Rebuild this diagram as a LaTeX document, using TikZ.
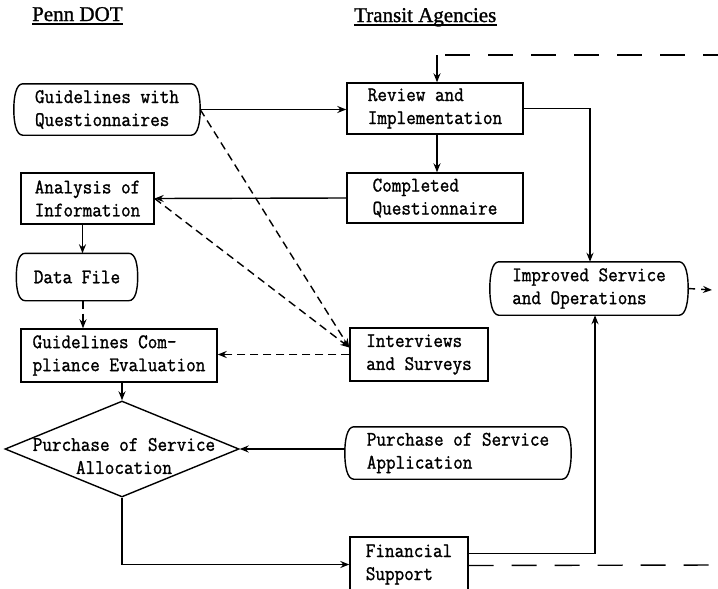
\documentclass[tikz,border=0pt]{standalone}
\usepackage{fontspec}
\setmonofont{Latin Modern Mono}[FakeBold=1.2, FakeStretch=0.9]
\newfontfamily\titlefont{Liberation Serif}[FakeBold=1.2]
\usetikzlibrary{shapes.geometric,arrows.meta}
\tikzset{
  every node/.style={font=\ttfamily\fontsize{20.7}{23}\selectfont, inner sep=0pt},
  lw/.style={line width=1.4pt},
  boxnode/.style={draw, lw, rectangle, align=left},
  termnode/.style={align=left},
  arr/.style={lw, -{Stealth[length=9pt,width=7pt,inset=3pt]}},
  dsh/.style={dash pattern=on 8pt off 5pt},
  longdsh/.style={dash pattern=on 25pt off 18pt},
  titlenode/.style={font=\titlefont\fontsize{21}{24}\selectfont, anchor=base west}
}
\newcommand\termsides[1]{%
  \draw[lw] ([xshift=-9pt]#1.north east)
    .. controls ([xshift=-2pt]#1.north east) and ([yshift=12pt]#1.east) .. (#1.east)
    .. controls ([yshift=-12pt]#1.east) and ([xshift=-2pt]#1.south east) .. ([xshift=-9pt]#1.south east)
    -- ([xshift=9pt]#1.south west)
    .. controls ([xshift=2pt]#1.south west) and ([yshift=-12pt]#1.west) .. (#1.west)
    .. controls ([yshift=12pt]#1.west) and ([xshift=2pt]#1.north west) .. ([xshift=9pt]#1.north west)
    -- cycle;}
\begin{document}
\begin{tikzpicture}[x=1pt,y=-1pt]
\clip (0,0) rectangle (718,589);
\fill[white] (0,0) rectangle (718,589);

\node[titlenode] (penn) at (32,21) {Penn DOT};
\draw[lw] ([yshift=-3pt]penn.base west) -- ([yshift=-3pt]penn.base east);
\node[titlenode] (transit) at (354,22) {Transit Agencies};
\draw[lw] ([yshift=-3pt]transit.base west) -- ([yshift=-3pt]transit.base east);

\node[termnode, minimum width=186, minimum height=51] (guide) at (107,109.5) {Guidelines with\\Questionnaires};
\termsides{guide}
\node[boxnode, minimum width=176, minimum height=51] (review) at (435,108.5) {Review and\\Implementation};
\node[boxnode, minimum width=133, minimum height=51] (analysis) at (87.5,198.5) {Analysis of\\Information};
\node[boxnode, minimum width=176, minimum height=50] (completed) at (435,198) {Completed\\Questionnaire};
\node[termnode, minimum width=121, minimum height=47] (datafile) at (77,277) {Data File};
\termsides{datafile}
\node[termnode, minimum width=198, minimum height=53] (improved) at (589,288.5) {Improved Service\\and Operations};
\termsides{improved}
\node[boxnode, minimum width=196, minimum height=53] (gce) at (119,355.5) {Guidelines Com-\\pliance Evaluation};
\node[boxnode, minimum width=138, minimum height=53] (interviews) at (419,354.5) {Interviews\\and Surveys};
\node[diamond, draw, lw, minimum width=234, minimum height=96, inner sep=0pt] (alloc) at (122,449) {};
\node[align=center] (alloctext) at (124,456) {Purchase of Service\\Allocation};
\node[termnode, minimum width=226, minimum height=52] (posapp) at (458,453) {Purchase of Service\\Application};
\termsides{posapp}
\node[boxnode, minimum width=118, minimum height=55] (finsup) at (409,564.5) {Financial\\Support};

\coordinate (topend) at (720,55);
\coordinate (topcorner) at (437,55);
\coordinate (impend) at (712,290);
\coordinate (fsend) at (720,565);

% solid connectors
\draw[arr] (guide.east) -- (guide.east -| review.west);
\draw[arr] ([xshift=2pt]review.south) -- ([xshift=2pt]completed.north);
\draw[arr] (review.east) -| ([xshift=1pt]improved.north);
\draw[arr] (completed.west) -- (analysis.east);
\draw[arr] ([xshift=-5pt]analysis.south) -- ([xshift=-5pt]analysis.south |- datafile.north);
\draw[arr] (gce.south -| alloc.north) -- (alloc.north);
\draw[arr] (posapp.west |- alloc.east) -- (alloc.east);
\draw[arr] (alloc.south) |- (finsup.west);
\draw[arr] ([yshift=11pt]finsup.east) -| ([xshift=6pt]improved.south);

% dashed connectors
\draw[arr, dsh] ([xshift=6pt]datafile.south) -- ([xshift=6pt]datafile.south |- gce.north);
\draw[arr, dsh] (guide.east) -- ([yshift=7pt]interviews.west);
\draw[arr, dsh] (analysis.east) -- ([yshift=7pt]interviews.west);
\draw[arr, dsh] (interviews.west) -- (interviews.west -| gce.east);
\draw[lw, longdsh, dash phase=-8pt] (topcorner) -- (topend);
\draw[arr] (topcorner) -- (topcorner |- review.north);
\draw[arr, dash pattern=on 7pt off 6pt] (improved.east) -- (impend);
\draw[lw, longdsh] ([yshift=-1pt]finsup.east) -- (fsend);
\end{tikzpicture}
\end{document}
